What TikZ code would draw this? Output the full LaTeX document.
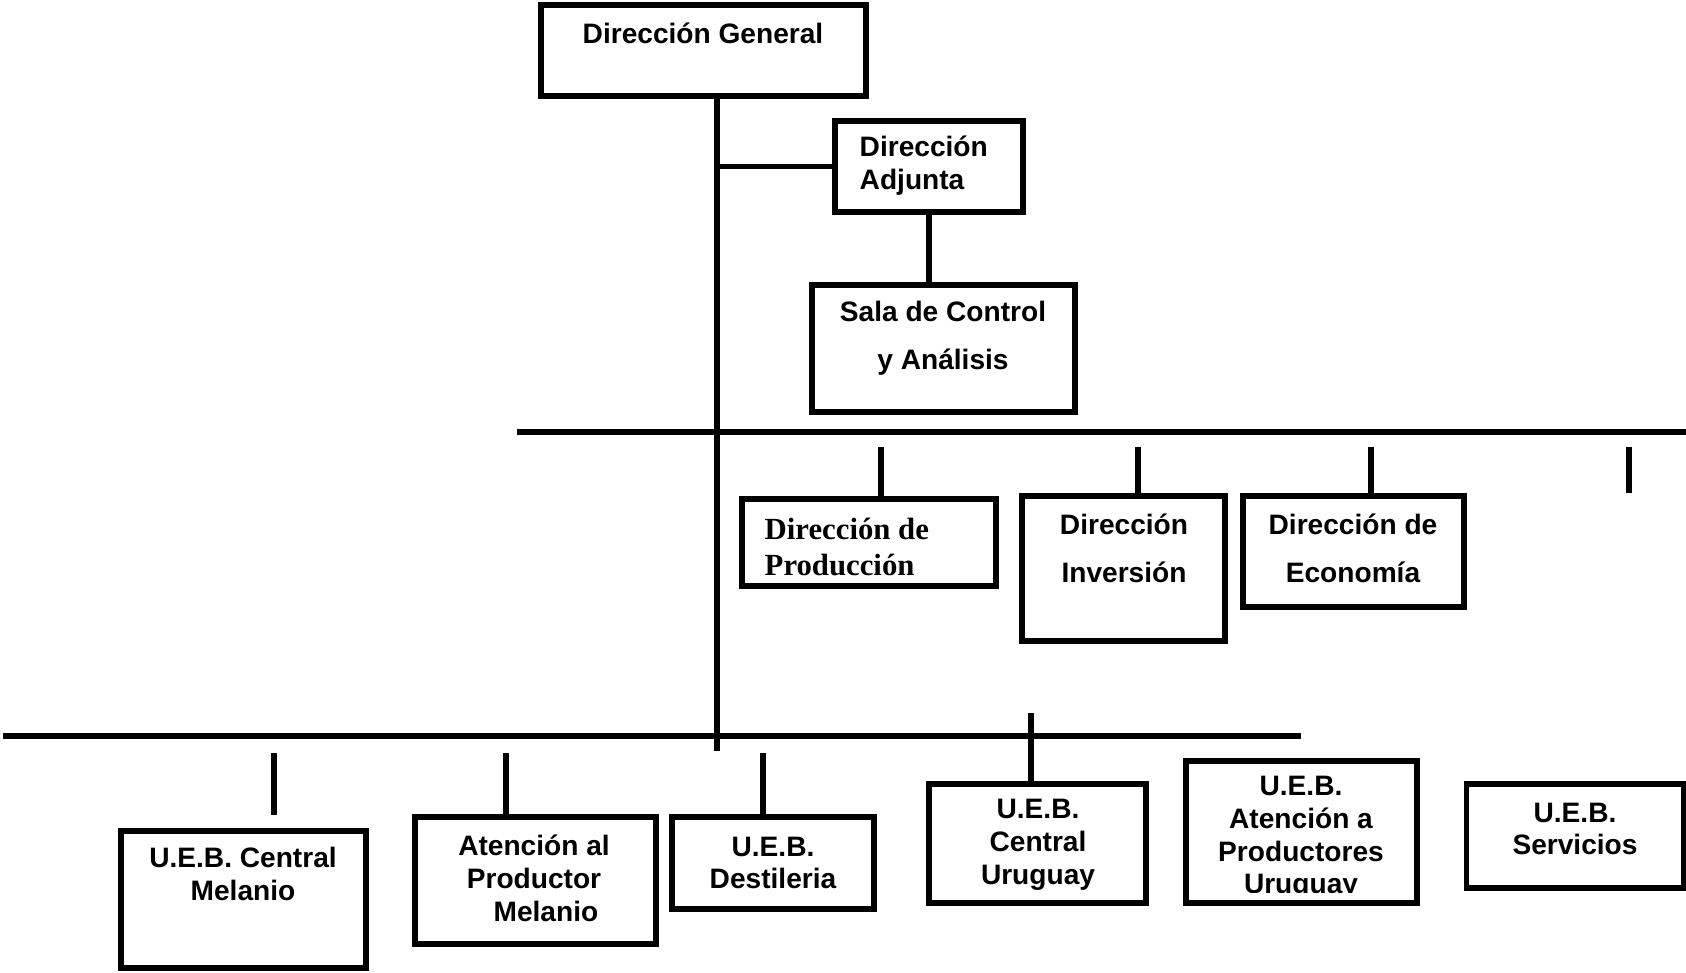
\documentclass[tikz,border=0pt]{standalone}
\usepackage{fontspec}
\setmainfont{Liberation Sans}
\newfontfamily\timesbold{Liberation Serif}
\usetikzlibrary{positioning}
\tikzstyle{box} = [rectangle, draw=black, line width=3pt, inner sep=0]
\tikzstyle{boxtext} = [align=center, inner sep=0, font=\bfseries\fontsize{16}{18.7}\selectfont]
\tikzstyle{widetext} = [align=center, inner sep=0, font=\bfseries\fontsize{16}{27.5}\selectfont]

\begin{document}
\begin{tikzpicture}[x=0.02cm, y=-0.02cm, line width=3.1pt]
\useasboundingbox (0,0) rectangle (1686,973);

% top of the chart
\node (DG) [box, minimum width=6.5cm, minimum height=1.82cm] at (703.5,50.5) {};
\node (DGText) [boxtext] at (703,33) {Dirección General};
\coordinate (TrunkEnd) at (717,751);
\draw (DG.south -| TrunkEnd) -- (TrunkEnd);

\node (DA) [box, minimum width=3.76cm, minimum height=1.82cm] at (929,166.5) {};
\node (DAText) [boxtext, align=left, anchor=west] at (857,166) {Dirección\\Adjunta};
\draw (DA.west -| TrunkEnd) -- (DA.west);

\node (Sala) [box, minimum width=5.26cm, minimum height=2.54cm] at (943.5,348.5) {};
\node (SalaText) [widetext] at (943,338) {Sala de Control\\y Análisis};
\draw (DA.south) -- (DA.south |- Sala.north);

% direcciones
\coordinate (BusAL) at (517,432);
\coordinate (BusAR) at (1686,432);
\draw (BusAL) -- (BusAR);

\node (Prod) [box, minimum width=5.08cm, minimum height=1.74cm] at (869,542.5) {};
\node (ProdText) [boxtext, align=left, anchor=west, font=\timesbold\bfseries\fontsize{17.5}{20.5}\selectfont] at (762,547) {Dirección de\\Producción};
\coordinate (TickProd) at (881,447);
\draw (TickProd) -- (TickProd |- Prod.north);

\node (Inv) [box, minimum width=4.06cm, minimum height=2.9cm] at (1123.5,568.5) {};
\node (InvText) [widetext] at (1124,548) {Dirección\\Inversión};
\coordinate (TickInv) at (1138,447);
\draw (TickInv) -- (TickInv |- Inv.north);

\node (Eco) [box, minimum width=4.42cm, minimum height=2.22cm] at (1353.5,551.5) {};
\node (EcoText) [widetext] at (1353,548) {Dirección de\\Economía};
\coordinate (TickEco) at (1371,447);
\draw (TickEco) -- (TickEco |- Eco.north);

\coordinate (TickFree) at (1629,447);
\coordinate (TickFreeEnd) at (1629,493);
\draw (TickFree) -- (TickFreeEnd);

% unidades
\coordinate (BusBL) at (3,736);
\coordinate (BusBR) at (1301,736);
\draw (BusBL) -- (BusBR);

\node (CM) [box, minimum width=4.9cm, minimum height=2.74cm] at (243.5,899.5) {};
\node (CMText) [boxtext] at (243,874) {U.E.B. Central\\Melanio};
\coordinate (TickCM) at (274,753);
\coordinate (TickCMEnd) at (274,815);
\draw (TickCM) -- (TickCMEnd);

\node (APM) [box, minimum width=4.82cm, minimum height=2.54cm] at (535.5,880.5) {};
\node (APMText) [boxtext] at (534,878) {Atención al\\Productor\\\hspace*{0.85em}Melanio};
\coordinate (TickAPM) at (506,753);
\draw (TickAPM) -- (TickAPM |- APM.north);

\node (Dest) [box, minimum width=4.04cm, minimum height=1.84cm] at (773,863) {};
\node (DestText) [boxtext] at (773,863) {U.E.B.\\Destileria};
\coordinate (TickDest) at (763,753);
\draw (TickDest) -- (TickDest |- Dest.north);

\node (CU) [box, minimum width=4.34cm, minimum height=2.38cm] at (1037.5,843.5) {};
\node (CUText) [boxtext] at (1038,845) {U.E.B.\\Central\\Uruguay};
\coordinate (TickCU) at (1031,713);
\draw (TickCU) -- (TickCU |- CU.north);

\node (APU) [box, minimum width=4.62cm, minimum height=2.84cm] at (1301.5,832) {};
\begin{scope}
\clip (1186,761) rectangle (1417,892);
\node (APUText) [boxtext] at (1301,838) {U.E.B.\\Atención a\\Productores\\Uruguay};
\end{scope}

\node (Serv) [box, minimum width=4.34cm, minimum height=2.08cm] at (1575,836) {};
\node (ServText) [boxtext] at (1575,829) {U.E.B.\\Servicios};
\end{tikzpicture}
\end{document}
